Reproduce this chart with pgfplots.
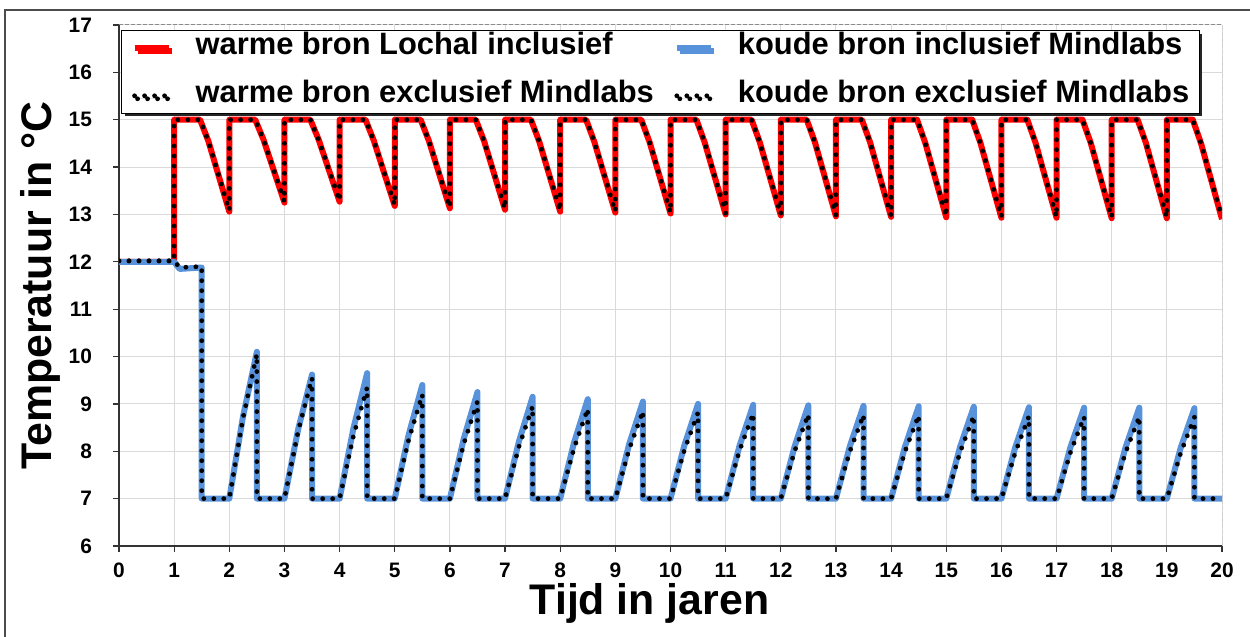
\documentclass[border=0pt]{standalone}
\usepackage{fontspec}
\setmainfont{Liberation Sans}
\usepackage{pgfplots}
\pgfplotsset{compat=1.18}
\usetikzlibrary{shadows}

\definecolor{warm}{RGB}{255,0,0}
\definecolor{koud}{RGB}{88,146,218}
\definecolor{gridc}{RGB}{218,218,218}

\tikzset{dots/.style={black, line width=2.4bp, line cap=round, dash pattern=on 0pt off 5bp}}

\begin{document}
\begin{tikzpicture}
\path[use as bounding box] (-59.5bp,-45.5bp) rectangle (565.5bp,273bp);
\draw[black!70, line width=1bp] (-57bp,-46bp) -- (-57bp,268bp) -- (566bp,268bp);
\begin{axis}[
    scale only axis,
    width=551.5bp, height=260.5bp,
    xmin=0, xmax=20, ymin=6, ymax=17,
    xtick={0,1,...,20}, ytick={6,7,...,17},
    axis x line*=bottom, axis y line*=left,
    axis line style={-, line width=0.7bp, black!80},
    tick align=outside, major tick length=3bp,
    tick style={black!80, line width=0.6bp},
    grid=major,
    major grid style={gridc, line width=0.5bp},
    ticklabel style={font=\fontsize{10.5}{12}\selectfont\bfseries},
    /pgf/number format/assume math mode=true,
    yticklabel shift=7bp,
    xticklabel shift=2bp,
    xlabel={Tijd in jaren},
    ylabel={Temperatuur in °C},
    label style={font=\fontsize{21.5}{24}\selectfont\bfseries},
    xlabel style={at={(axis description cs:0.481,-0.1324)}, anchor=base},
    ylabel style={at={(axis description cs:-0.0716,0.5)}, anchor=center},
    legend columns=2,
    legend cell align=left,
    legend style={
        at={(axis description cs:0.0018,0.9904)}, anchor=north west,
        font=\fontsize{15.5}{18}\selectfont\bfseries,
        draw=black, line width=0.6bp, fill=white,
        drop shadow={shadow xshift=1.5bp, shadow yshift=-1.5bp, fill=black!85, opacity=1},
        inner xsep=5bp, inner ysep=4.5bp,
        nodes={inner sep=0pt, text height=0.75em, text depth=0.1em},
        row sep=15.4bp,
        /tikz/every odd column/.append style={column sep=12bp},
        /tikz/every even column/.append style={column sep=10bp},
    },
]
% warme bron Lochal inclusief
\addplot[warm, line width=3bp, line join=round] coordinates {
(0,12) (1,12) (1,15) (1.47,15) (1.62,14.55) (2,13.06)
(2,15) (2.47,15) (2.62,14.58) (3,13.25)
(3,15) (3.47,15) (3.62,14.58) (4,13.27)
(4,15) (4.47,15) (4.62,14.56) (5,13.18)
(5,15) (5.47,15) (5.62,14.55) (6,13.13)
(6,15) (6.47,15) (6.62,14.55) (7,13.10)
(7,15) (7.47,15) (7.62,14.54) (8,13.06)
(8,15) (8.47,15) (8.62,14.53) (9,13.04)
(9,15) (9.47,15) (9.62,14.53) (10,13.02)
(10,15) (10.47,15) (10.62,14.52) (11,13.00)
(11,15) (11.47,15) (11.62,14.52) (12,12.98)
(12,15) (12.47,15) (12.62,14.52) (13,12.96)
(13,15) (13.47,15) (13.62,14.52) (14,12.95)
(14,15) (14.47,15) (14.62,14.51) (15,12.94)
(15,15) (15.47,15) (15.62,14.51) (16,12.93)
(16,15) (16.47,15) (16.62,14.51) (17,12.93)
(17,15) (17.47,15) (17.62,14.51) (18,12.92)
(18,15) (18.47,15) (18.62,14.51) (19,12.92)
(19,15) (19.47,15) (19.62,14.50) (20,12.90)
};
\addlegendentry{warme bron Lochal inclusief}
% koude bron inclusief Mindlabs
\addplot[koud, line width=3bp, line join=round] coordinates {
(0,12) (1,12) (1.1,11.85) (1.5,11.88) (1.5,7)
(2,7) (2.25,8.74) (2.5,10.10) (2.5,7)
(3,7) (3.25,8.47) (3.5,9.62) (3.5,7)
(4,7) (4.25,8.48) (4.5,9.65) (4.5,7)
(5,7) (5.25,8.34) (5.5,9.40) (5.5,7)
(6,7) (6.25,8.26) (6.5,9.25) (6.5,7)
(7,7) (7.25,8.20) (7.5,9.15) (7.5,7)
(8,7) (8.25,8.18) (8.5,9.10) (8.5,7)
(9,7) (9.25,8.15) (9.5,9.05) (9.5,7)
(10,7) (10.25,8.12) (10.5,9.00) (10.5,7)
(11,7) (11.25,8.11) (11.5,8.98) (11.5,7)
(12,7) (12.25,8.10) (12.5,8.97) (12.5,7)
(13,7) (13.25,8.10) (13.5,8.96) (13.5,7)
(14,7) (14.25,8.09) (14.5,8.95) (14.5,7)
(15,7) (15.25,8.09) (15.5,8.94) (15.5,7)
(16,7) (16.25,8.08) (16.5,8.93) (16.5,7)
(17,7) (17.25,8.08) (17.5,8.92) (17.5,7)
(18,7) (18.25,8.08) (18.5,8.92) (18.5,7)
(19,7) (19.25,8.07) (19.5,8.91) (19.5,7)
(20,7)
};
\addlegendentry{koude bron inclusief Mindlabs}
% warme bron exclusief Mindlabs
\addplot[dots] coordinates {
(0,12.02) (1,12.02) (1,15) (1.47,15) (1.62,14.55) (2,13.08)
(2,15) (2.47,15) (2.62,14.58) (3,13.27)
(3,15) (3.47,15) (3.62,14.58) (4,13.29)
(4,15) (4.47,15) (4.62,14.56) (5,13.20)
(5,15) (5.47,15) (5.62,14.55) (6,13.15)
(6,15) (6.47,15) (6.62,14.55) (7,13.12)
(7,15) (7.47,15) (7.62,14.54) (8,13.08)
(8,15) (8.47,15) (8.62,14.53) (9,13.06)
(9,15) (9.47,15) (9.62,14.53) (10,13.04)
(10,15) (10.47,15) (10.62,14.52) (11,13.02)
(11,15) (11.47,15) (11.62,14.52) (12,13.00)
(12,15) (12.47,15) (12.62,14.52) (13,12.98)
(13,15) (13.47,15) (13.62,14.52) (14,12.97)
(14,15) (14.47,15) (14.62,14.51) (15,12.96)
(15,15) (15.47,15) (15.62,14.51) (16,12.95)
(16,15) (16.47,15) (16.62,14.51) (17,12.95)
(17,15) (17.47,15) (17.62,14.51) (18,12.94)
(18,15) (18.47,15) (18.62,14.51) (19,12.94)
(19,15) (19.47,15) (19.62,14.50) (20,12.92)
};
\addlegendentry{warme bron exclusief Mindlabs}
% koude bron exclusief Mindlabs
\addplot[dots] coordinates {
(0,12.02) (1,12.02) (1.1,11.88) (1.5,11.9) (1.5,7)
(2,7) (2.25,8.71) (2.5,10.05) (2.5,7)
(3,7) (3.25,8.43) (3.5,9.55) (3.5,7)
(4,7) (4.25,8.32) (4.5,9.35) (4.5,7)
(5,7) (5.25,8.23) (5.5,9.20) (5.5,7)
(6,7) (6.25,8.15) (6.5,9.05) (6.5,7)
(7,7) (7.25,8.09) (7.5,8.95) (7.5,7)
(8,7) (8.25,8.06) (8.5,8.90) (8.5,7)
(9,7) (9.25,8.04) (9.5,8.85) (9.5,7)
(10,7) (10.25,8.02) (10.5,8.82) (10.5,7)
(11,7) (11.25,8.01) (11.5,8.80) (11.5,7)
(12,7) (12.25,8.00) (12.5,8.78) (12.5,7)
(13,7) (13.25,7.99) (13.5,8.77) (13.5,7)
(14,7) (14.25,7.99) (14.5,8.76) (14.5,7)
(15,7) (15.25,7.98) (15.5,8.75) (15.5,7)
(16,7) (16.25,7.97) (16.5,8.74) (16.5,7)
(17,7) (17.25,7.97) (17.5,8.73) (17.5,7)
(18,7) (18.25,7.97) (18.5,8.73) (18.5,7)
(19,7) (19.25,7.96) (19.5,8.72) (19.5,7)
(20,7)
};
\addlegendentry{koude bron exclusief Mindlabs}
\draw[black!45, line width=0.5bp, dash pattern=on 2bp off 1bp]
    (rel axis cs:0,1) -- (rel axis cs:1,1) -- (rel axis cs:1,0);
\end{axis}
\end{tikzpicture}
\end{document}
